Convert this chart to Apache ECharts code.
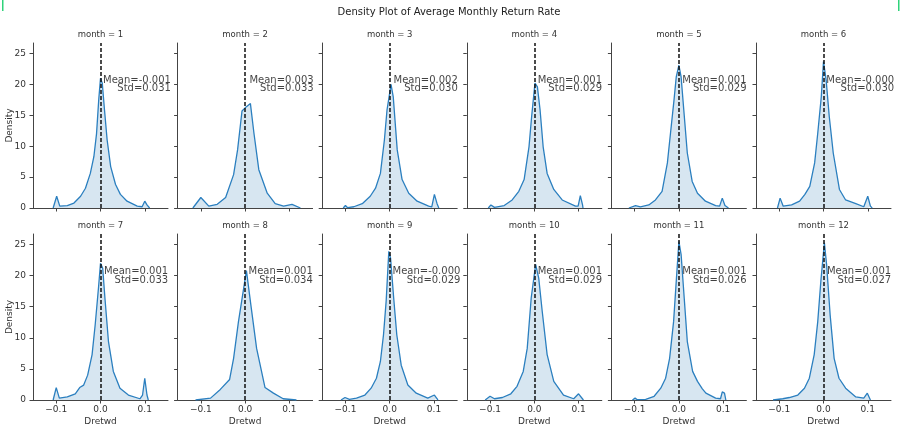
<!DOCTYPE html>
<html><head><meta charset="utf-8">
<script src="https://cdn.jsdelivr.net/npm/echarts@6/dist/echarts.min.js"></script>
<style>html,body{margin:0;padding:0;background:#fff}#c{width:900px;height:431px}</style>
</head><body><div id="c"></div>
<script>
const chartTitle = 'Density Plot of Average Monthly Return Rate';
const months = [1, 2, 3, 4, 5, 6, 7, 8, 9, 10, 11, 12];
const meanValues = [-0.001, 0.003, 0.002, 0.001, 0.001, -0.0004, 0.001, 0.001, -0.0004, 0.001, 0.001, 0.001];
const stdValues = [0.031, 0.033, 0.030, 0.029, 0.029, 0.030, 0.033, 0.034, 0.029, 0.029, 0.026, 0.027];
const xTickValues = [-0.1, 0, 0.1];
const yTickValues = [0, 5, 10, 15, 20, 25];
const xAxisTitle = 'Dretwd';
const yAxisTitle = 'Density';

const kdeMonth1 = [[-0.107,0],[-0.099,1.9],[-0.092,0.3],[-0.075,0.4],[-0.06,0.8],[-0.045,1.9],[-0.034,3.2],[-0.023,5.6],[-0.015,8.3],[-0.009,12],[-0.004,17.5],[0,21],[0.004,20.2],[0.009,15.9],[0.015,11],[0.023,6.7],[0.034,3.8],[0.045,2.2],[0.06,1.1],[0.083,0.3],[0.094,0.2],[0.1,1.1],[0.105,0.5],[0.111,0]];
const kdeMonth2 = [[-0.118,0],[-0.1,1.7],[-0.082,0.3],[-0.063,0.6],[-0.044,1.7],[-0.026,5.4],[-0.017,9.4],[-0.007,15.7],[0.003,16.4],[0.012,16.9],[0.02,12.1],[0.031,6.2],[0.05,2.4],[0.068,0.7],[0.087,0.3],[0.106,0.6],[0.125,0]];
const kdeMonth3 = [[-0.105,0],[-0.1,0.4],[-0.095,0.05],[-0.081,0.2],[-0.062,0.7],[-0.044,1.9],[-0.032,3.2],[-0.021,5.6],[-0.012,11],[-0.006,15.9],[0.003,20],[0.008,18],[0.017,9.4],[0.028,4.6],[0.043,2.4],[0.062,1.1],[0.088,0.3],[0.095,0.2],[0.101,2.2],[0.107,0.7],[0.111,0]];
const kdeMonth4 = [[-0.104,0],[-0.098,0.5],[-0.09,0.1],[-0.068,0.4],[-0.05,1.3],[-0.035,2.7],[-0.023,4.6],[-0.012,9.9],[-0.006,14.8],[0.0015,20.2],[0.007,19.6],[0.013,15.9],[0.02,9.9],[0.029,5.6],[0.044,3],[0.063,1.3],[0.093,0.3],[0.099,0.3],[0.104,2.0],[0.109,0.5],[0.11,0]];
const kdeMonth5 = [[-0.113,0],[-0.098,0.4],[-0.087,0.2],[-0.068,0.5],[-0.053,1.3],[-0.038,2.7],[-0.026,7.3],[-0.019,12.1],[-0.011,17.5],[-0.006,21.2],[0,23.1],[0.005,21.2],[0.011,15.9],[0.019,8.9],[0.03,4.3],[0.042,2.4],[0.06,1.1],[0.083,0.4],[0.092,0.3],[0.098,1.6],[0.104,0.4],[0.112,0]];
const kdeMonth6 = [[-0.104,0],[-0.098,1.6],[-0.091,0.3],[-0.072,0.5],[-0.054,1.1],[-0.042,2.2],[-0.031,3.5],[-0.02,7.3],[-0.013,12.1],[-0.005,18],[0,23.7],[0.006,20.7],[0.013,14.8],[0.022,8.9],[0.036,3],[0.05,1.3],[0.073,0.7],[0.091,0.2],[0.1,1.9],[0.106,0.3],[0.11,0]];
const kdeMonth7 = [[-0.107,0],[-0.1,2.0],[-0.093,0.3],[-0.075,0.5],[-0.057,1.0],[-0.047,2.0],[-0.038,2.4],[-0.029,4.0],[-0.019,7.3],[-0.012,12.1],[-0.004,18.5],[0,22],[0.005,21.2],[0.01,16.4],[0.018,9.4],[0.029,4.6],[0.044,1.9],[0.063,0.8],[0.089,0.2],[0.095,0.8],[0.1,3.5],[0.105,0.8],[0.108,0]];
const kdeMonth8 = [[-0.112,0],[-0.078,0.3],[-0.056,1.7],[-0.035,3.3],[-0.026,6.7],[-0.015,12.6],[0.003,20.8],[0.013,15.3],[0.026,8.3],[0.045,2.0],[0.064,1.1],[0.086,0.2],[0.116,0]];
const kdeMonth9 = [[-0.11,0],[-0.101,0.4],[-0.091,0.1],[-0.075,0.3],[-0.056,0.8],[-0.042,1.9],[-0.03,3.5],[-0.021,6.2],[-0.014,10.5],[-0.008,15.9],[-0.002,23.9],[0.002,22.8],[0.009,16.4],[0.016,10.5],[0.026,5.6],[0.041,2.4],[0.06,1.1],[0.086,0.3],[0.101,0.8],[0.106,0.3],[0.109,0]];
const kdeMonth10 = [[-0.111,0],[-0.1,0.6],[-0.09,0.2],[-0.072,0.4],[-0.053,1.0],[-0.039,2.2],[-0.025,4.6],[-0.016,8.3],[-0.007,16.4],[0.003,21.8],[0.01,19.6],[0.018,14.2],[0.029,7.3],[0.044,3.0],[0.066,0.8],[0.089,0.2],[0.1,1.0],[0.111,0]];
const kdeMonth11 = [[-0.105,0],[-0.099,0.3],[-0.094,0.05],[-0.075,0.1],[-0.056,0.6],[-0.041,1.9],[-0.03,3.5],[-0.021,6.7],[-0.012,12.6],[-0.007,18],[0,25.5],[0.005,23.4],[0.012,16.4],[0.019,9.4],[0.031,4.6],[0.042,3.0],[0.053,1.8],[0.061,1.1],[0.083,0.3],[0.094,0.2],[0.098,1.3],[0.103,1.1],[0.106,0]];
const kdeMonth12 = [[-0.114,0],[-0.092,0.2],[-0.077,0.4],[-0.058,0.8],[-0.043,1.9],[-0.032,3.5],[-0.021,7.3],[-0.013,12.6],[-0.006,19.1],[0.002,25.3],[0.007,21.8],[0.015,13.7],[0.024,6.7],[0.035,3.5],[0.05,1.9],[0.073,0.5],[0.091,0.3],[0.099,1.1],[0.106,0]];

const kdeByMonth = [kdeMonth1, kdeMonth2, kdeMonth3, kdeMonth4, kdeMonth5, kdeMonth6,
                    kdeMonth7, kdeMonth8, kdeMonth9, kdeMonth10, kdeMonth11, kdeMonth12];

const FONT = '"DejaVu Sans", sans-serif';
const textY = 20;
const grids = [], xAxes = [], yAxes = [], series = [], graphics = [];

const colStep = 144.6, gLeft = 33, gWidth = 135;
const rowTop = [43, 234], rowH = [165, 166];

function fmtTick(v) {
  return (Math.abs(v) < 1e-9 ? '0.0' : v.toFixed(1)).replace('-', '\u2212');
}

months.forEach((m, i) => {
  const r = Math.floor(i / 6), c = i % 6;
  const left = gLeft + colStep * c;
  grids.push({left: left, top: rowTop[r], width: gWidth, height: rowH[r], containLabel: false});
  xAxes.push({
    type: 'value', gridIndex: i, min: -0.1525, max: 0.1525, position: 'bottom',
    axisLine: {show: true, onZero: false, lineStyle: {color: '#444', width: 1}},
    axisTick: {show: true, length: 3.5, customValues: xTickValues, lineStyle: {color: '#444'}},
    axisLabel: {show: r === 1, customValues: xTickValues, formatter: fmtTick, fontSize: 9,
                fontFamily: FONT, color: '#333', margin: 5},
    splitLine: {show: false}
  });
  yAxes.push({
    type: 'value', gridIndex: i, min: 0, max: 26.7, position: 'left',
    axisLine: {show: true, onZero: false, lineStyle: {color: '#444', width: 1}},
    axisTick: {show: true, length: 3.5, customValues: yTickValues, lineStyle: {color: '#444'}},
    axisLabel: {show: c === 0, customValues: yTickValues, fontSize: 9, fontFamily: FONT, color: '#333', margin: 7},
    splitLine: {show: false}
  });
  series.push({
    type: 'line', xAxisIndex: i, yAxisIndex: i, data: kdeByMonth[i],
    symbol: 'none', smooth: false, silent: true, z: 2,
    lineStyle: {color: '#2b7fbf', width: 1.3},
    areaStyle: {color: 'rgba(31,119,180,0.26)'},
    markLine: {
      silent: true, symbol: 'none', animation: false,
      label: {show: false},
      lineStyle: {color: '#111', type: [4, 2], width: 1.5},
      data: [{xAxis: meanValues[i]}]
    }
  });
  series.push({
    type: 'scatter', xAxisIndex: i, yAxisIndex: i, symbolSize: 0, silent: true, z: 5,
    data: [[meanValues[i], textY]],
    label: {
      show: true, position: 'right', distance: 3,
      formatter: '{m|Mean=' + meanValues[i].toFixed(3) + '}\n{s|Std=' + stdValues[i].toFixed(3) + '}',
      rich: {
        m: {fontSize: 10, fontFamily: FONT, color: '#111', lineHeight: 8.6},
        s: {fontSize: 10, fontFamily: FONT, color: '#111', lineHeight: 8.6, align: 'right'}
      }
    }
  });
  const cx = left + gWidth / 2;
  graphics.push({type: 'text', x: cx, y: r === 0 ? 34.3 : 226,
    style: {text: 'month = ' + m, fontSize: 8.5, fontFamily: FONT, fill: '#333', align: 'center', verticalAlign: 'middle'}});
  if (r === 1) {
    graphics.push({type: 'text', x: cx, y: 422,
      style: {text: xAxisTitle, fontSize: 9, fontFamily: FONT, fill: '#333', align: 'center', verticalAlign: 'middle'}});
  }
  if (c === 0) {
    graphics.push({type: 'text', x: 9.5, y: rowTop[r] + rowH[r] / 2, rotation: Math.PI / 2,
      style: {text: yAxisTitle, fontSize: 9, fontFamily: FONT, fill: '#333', align: 'center', verticalAlign: 'middle'}});
  }
});

graphics.push({type: 'text', x: 449, y: 12.7,
  style: {text: chartTitle, fontSize: 10, fontFamily: FONT, fill: '#222', align: 'center', verticalAlign: 'middle'}});
graphics.push({type: 'rect', shape: {x: 2, y: 0, width: 1.5, height: 11}, style: {fill: '#2fd37a'}});
graphics.push({type: 'rect', shape: {x: 898, y: 0, width: 1.5, height: 11}, style: {fill: '#2fd37a'}});

const chart = echarts.init(document.getElementById('c'), null, {renderer: 'canvas'});
chart.setOption({
  animation: false,
  backgroundColor: '#fff',
  grid: grids, xAxis: xAxes, yAxis: yAxes, series: series, graphic: graphics
});
</script>
</body></html>
